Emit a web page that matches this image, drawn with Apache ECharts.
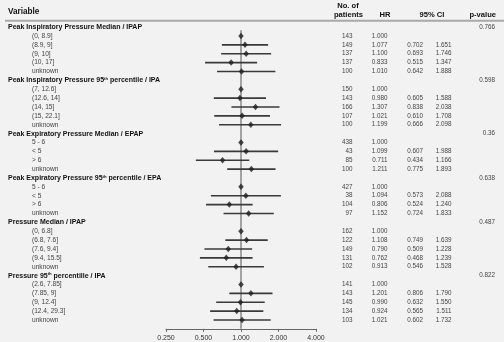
<!DOCTYPE html>
<html>
<head>
<meta charset="utf-8">
<script src="https://cdn.jsdelivr.net/npm/echarts@6/dist/echarts.min.js"></script>
<style>
html,body{margin:0;padding:0;background:#f2f2f2;}
#chart{width:504px;height:342px;}
</style>
</head>
<body>
<div id="chart"></div>
<script>
// ---- data ----
const groupNames = [
  'Peak Inspiratory Pressure Median / IPAP',
  'Peak Inspiratory Pressure 95{sup|th} percentile / IPA',
  'Peak Expiratory Pressure Median / EPAP',
  'Peak Expiratory Pressure 95{sup|th} percentile / EPA',
  'Pressure Median / IPAP',
  'Pressure 95{sup|th} percentille / IPA'
];
const pValues = ['0.766', '0.598', '0.36', '0.638', '0.487', '0.822'];
const subLabels = [
  ['(0, 8.9]', '(8.9, 9]', '(9, 10]', '(10, 17]', 'unknown'],
  ['(7, 12.6]', '(12.6, 14]', '(14, 15]', '(15, 22.1]', 'unknown'],
  ['5 - 6', '< 5', '> 6', 'unknown'],
  ['5 - 6', '< 5', '> 6', 'unknown'],
  ['(0, 6.8]', '(6.8, 7.6]', '(7.6, 9.4]', '(9.4, 15.5]', 'unknown'],
  ['(2.6, 7.85]', '(7.85, 9]', '(9, 12.4]', '(12.4, 29.3]', 'unknown']
];
const patients = [
  [143, 149, 137, 137, 100],
  [150, 143, 166, 107, 100],
  [438, 43, 85, 100],
  [427, 38, 104, 97],
  [162, 122, 149, 131, 102],
  [141, 143, 145, 134, 103]
];
const hr = [
  [1.000, 1.077, 1.100, 0.833, 1.010],
  [1.000, 0.980, 1.307, 1.021, 1.199],
  [1.000, 1.099, 0.711, 1.211],
  [1.000, 1.094, 0.806, 1.152],
  [1.000, 1.108, 0.790, 0.762, 0.913],
  [1.000, 1.201, 0.990, 0.924, 1.021]
];
const ciLow = [
  [null, 0.702, 0.693, 0.515, 0.642],
  [null, 0.605, 0.838, 0.610, 0.666],
  [null, 0.607, 0.434, 0.775],
  [null, 0.573, 0.524, 0.724],
  [null, 0.749, 0.509, 0.468, 0.546],
  [null, 0.806, 0.632, 0.565, 0.602]
];
const ciHigh = [
  [null, 1.651, 1.746, 1.347, 1.888],
  [null, 1.588, 2.038, 1.708, 2.098],
  [null, 1.988, 1.166, 1.893],
  [null, 2.088, 1.240, 1.833],
  [null, 1.639, 1.228, 1.239, 1.528],
  [null, 1.790, 1.550, 1.511, 1.732]
];
const tickLabels = ['0.250', '0.500', '1.000', '2.000', '4.000'];
const tickValues = [0.25, 0.5, 1, 2, 4];

// ---- build rows ----
const rows = [];
let idx = 0;
groupNames.forEach((g, gi) => {
  rows.push({type: 'group', idx: idx++, label: g, p: pValues[gi]});
  subLabels[gi].forEach((s, si) => {
    rows.push({type: 'sub', idx: idx++, label: s, n: patients[gi][si], hr: hr[gi][si],
      lo: ciLow[gi][si], hi: ciHigh[gi][si]});
  });
});
const nLines = idx; // 34

const subRows = rows.filter(r => r.type === 'sub');
const pointData = subRows.map(r => [r.hr, r.idx]);
const barData = subRows.filter(r => r.lo != null).map(r => [r.lo, r.hi, r.idx]);

const fmt = v => v == null ? '' : v.toFixed(3);
const textData = rows.map(r => [1, r.idx]);

const FONT = '"Liberation Sans", Arial, sans-serif';
const chart = echarts.init(document.getElementById('chart'), null, {renderer: 'canvas'});

chart.setOption({
  backgroundColor: '#f2f2f2',
  animation: false,
  grid: {left: 166, right: 188, top: 27.1, height: 301.75},
  xAxis: {
    type: 'log', logBase: 2, min: 0.25, max: 4, position: 'bottom',
    axisLine: {show: true, onZero: false, lineStyle: {color: '#666', width: 1}},
    axisTick: {show: true, length: 3, lineStyle: {color: '#666'}},
    splitLine: {show: false},
    axisLabel: {
      margin: 6, fontSize: 7, color: '#333', fontFamily: FONT,
      formatter: v => {
        const i = tickValues.findIndex(t => Math.abs(t - v) < 1e-9);
        return i >= 0 ? tickLabels[i] : '';
      }
    }
  },
  yAxis: {type: 'value', inverse: true, min: 0, max: nLines, show: false},
  graphic: [
    {type: 'text', left: 8, top: 8, style: {text: 'Variable', font: 'bold 8.2px ' + FONT, fill: '#111'}},
    {type: 'text', x: 348, y: 5.5, style: {text: 'No. of', font: 'bold 7.6px ' + FONT, fill: '#111', textAlign: 'center', textVerticalAlign: 'middle'}},
    {type: 'text', x: 348.5, y: 14.5, style: {text: 'patients', font: 'bold 7.6px ' + FONT, fill: '#111', textAlign: 'center', textVerticalAlign: 'middle'}},
    {type: 'text', x: 385, y: 14.5, style: {text: 'HR', font: 'bold 7.6px ' + FONT, fill: '#111', textAlign: 'center', textVerticalAlign: 'middle'}},
    {type: 'text', x: 432, y: 14.5, style: {text: '95% CI', font: 'bold 7.6px ' + FONT, fill: '#111', textAlign: 'center', textVerticalAlign: 'middle'}},
    {type: 'text', x: 496, y: 14.5, style: {text: 'p-value', font: 'bold 7.6px ' + FONT, fill: '#111', textAlign: 'right', textVerticalAlign: 'middle'}},
    {type: 'rect', shape: {x: 5, y: 19.7, width: 499, height: 2}, style: {fill: '#a9a9a9'}}
  ],
  series: [
    {
      type: 'line', z: 1, silent: true, symbol: 'none',
      data: [[1, 0.35], [1, nLines]],
      lineStyle: {color: '#a3a3a3', width: 2}
    },
    {
      type: 'custom', z: 2, silent: true,
      data: barData,
      renderItem: (params, api) => {
        const a = api.coord([api.value(0), api.value(2)]);
        const b = api.coord([api.value(1), api.value(2)]);
        return {type: 'line', shape: {x1: a[0], y1: a[1], x2: b[0], y2: b[1]},
          style: {stroke: '#3a3a3a', lineWidth: 1.6}};
      }
    },
    {
      type: 'scatter', z: 3, silent: true,
      data: pointData, symbol: 'diamond', symbolSize: [5.5, 6.5],
      itemStyle: {color: '#1e1e1e'}
    },
    {
      type: 'custom', z: 4, silent: true,
      data: textData,
      renderItem: (params, api) => {
        const r = rows[params.dataIndex];
        const y = api.coord([1, r.idx])[1];
        if (r.type === 'group') {
          return {type: 'group', children: [
            {type: 'text', style: {x: 8, y: y, text: r.label, font: 'bold 7px ' + FONT, fill: '#111',
              textVerticalAlign: 'middle',
              rich: {sup: {fontSize: 4.2, fontWeight: 'bold', fontFamily: 'Liberation Sans', fill: '#111', verticalAlign: 'top', padding: [0, 0, 3, 0]}}}},
            {type: 'text', style: {x: 495, y: y, text: r.p, font: '6.3px ' + FONT, fill: '#444', textAlign: 'right', textVerticalAlign: 'middle'}}
          ]};
        }
        const f = '6.3px ' + FONT;
        return {type: 'group', children: [
          {type: 'text', style: {x: 32, y: y, text: r.label, font: '6.6px ' + FONT, fill: '#444', textVerticalAlign: 'middle'}},
          {type: 'text', style: {x: 352.5, y: y, text: String(r.n), font: f, fill: '#444', textAlign: 'right', textVerticalAlign: 'middle'}},
          {type: 'text', style: {x: 387.5, y: y, text: fmt(r.hr), font: f, fill: '#444', textAlign: 'right', textVerticalAlign: 'middle'}},
          {type: 'text', style: {x: 423, y: y, text: fmt(r.lo), font: f, fill: '#444', textAlign: 'right', textVerticalAlign: 'middle'}},
          {type: 'text', style: {x: 451.5, y: y, text: fmt(r.hi), font: f, fill: '#444', textAlign: 'right', textVerticalAlign: 'middle'}}
        ]};
      }
    }
  ]
});
</script>
</body>
</html>
